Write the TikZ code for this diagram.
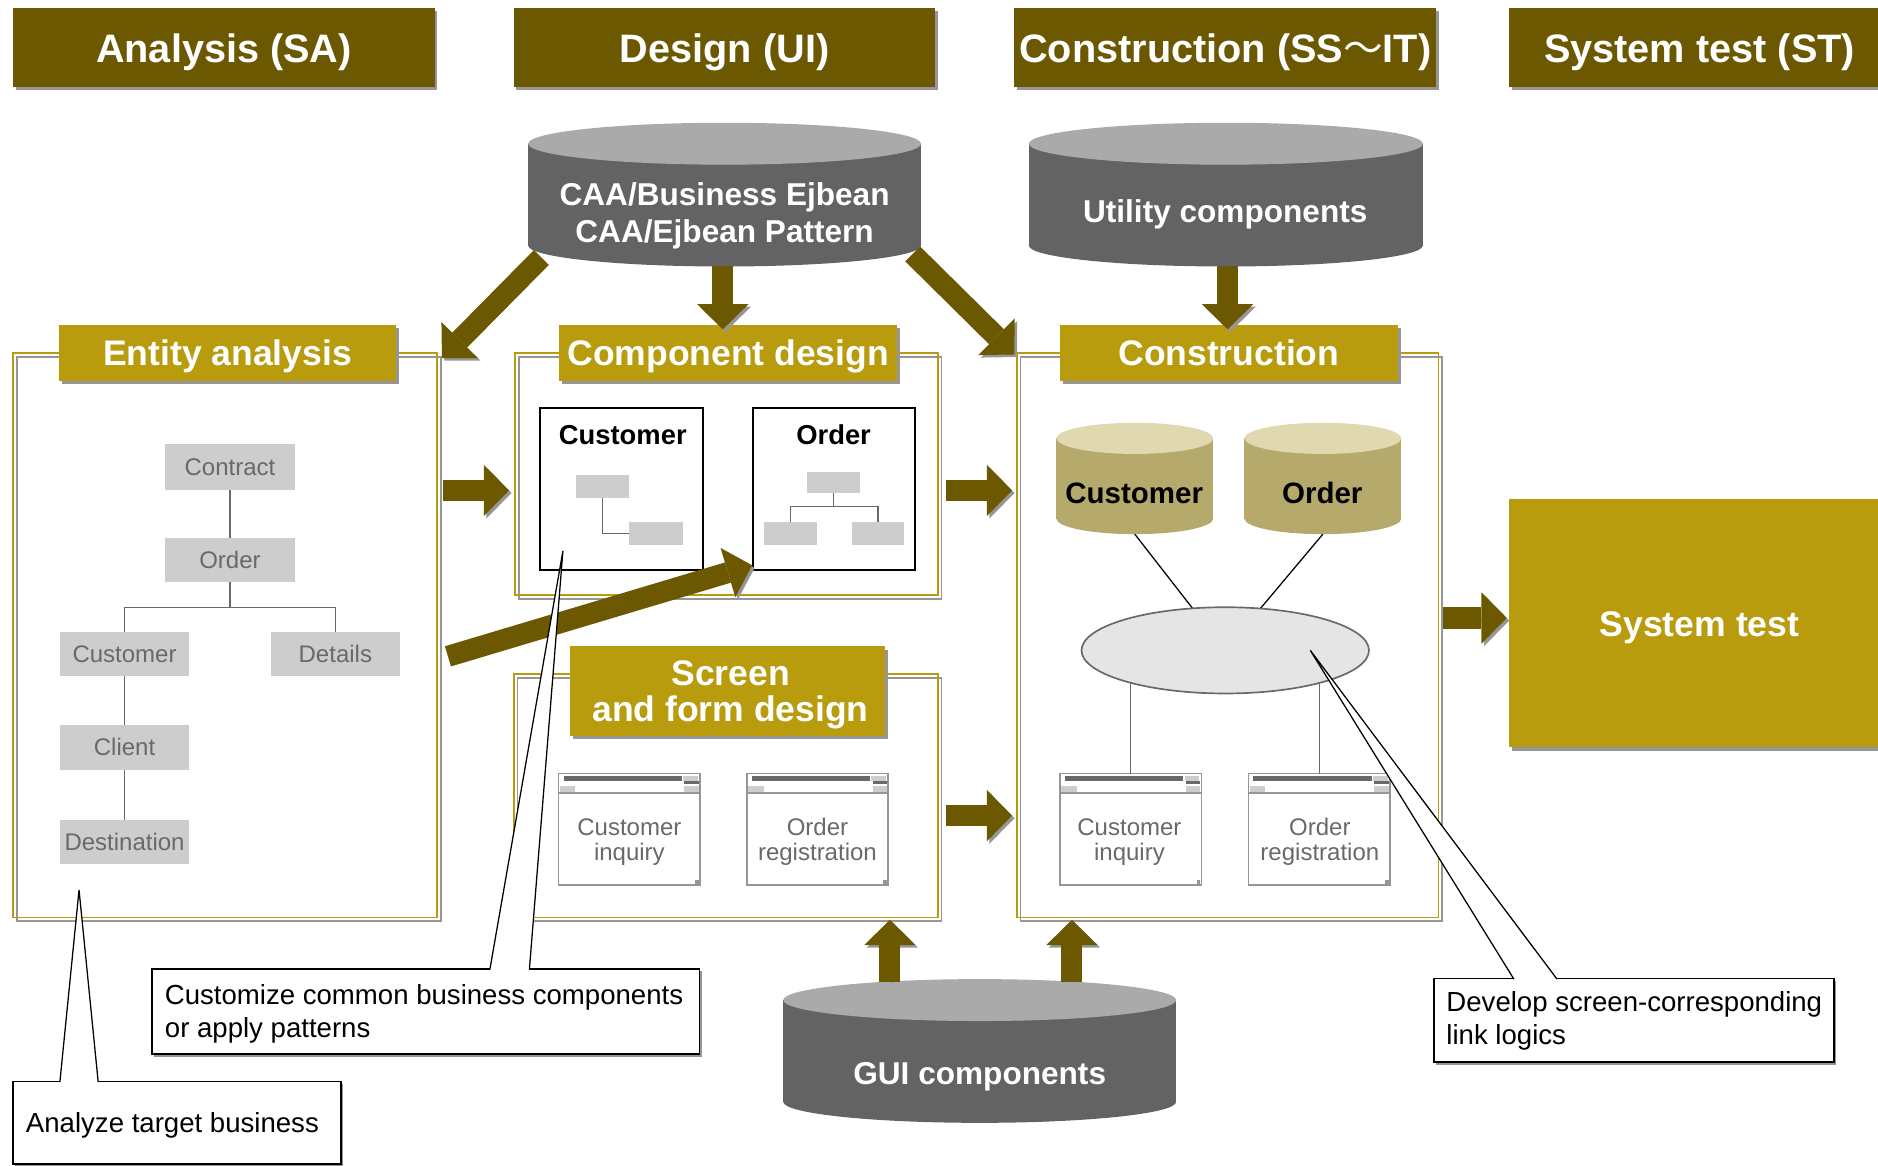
\documentclass[tikz,border=0pt]{standalone}
\usepackage{fontspec}
\setmainfont{Liberation Sans}
\newfontfamily\cjk{Noto Sans CJK JP}
\usetikzlibrary{arrows.meta,shapes.geometric,shadows}
\definecolor{darkgold}{RGB}{107,88,0}
\definecolor{gold}{RGB}{184,156,14}
\definecolor{shadowgray}{RGB}{150,150,150}
\definecolor{boxgray}{RGB}{205,205,205}
\definecolor{labelgray}{RGB}{105,105,105}
\definecolor{cylbody}{RGB}{99,99,99}
\definecolor{cyltop}{RGB}{170,170,170}
\definecolor{dbbody}{RGB}{181,169,108}
\definecolor{dbtop}{RGB}{224,216,174}
\tikzset{
    sized/.style 2 args={minimum width=#1*0.01cm, minimum height=#2*0.01cm, inner sep=0pt, outer sep=0pt},
    header/.style 2 args={sized={#1}{#2}, fill=darkgold, text=white, text height=7.6pt, text depth=0.7pt, general shadow={fill=shadowgray, shadow xshift=0.6pt, shadow yshift=-0.6pt},
        font=\fontsize{9.42pt}{11pt}\selectfont\bfseries},
    titlebox/.style 2 args={sized={#1}{#2}, fill=gold, text=white, text height=6.5pt, text depth=0.4pt, general shadow={fill=shadowgray, shadow xshift=0.7pt, shadow yshift=-0.8pt},
        font=\fontsize{8.43pt}{8.5pt}\selectfont\bfseries},
    titletext/.style={text=white, align=center, inner sep=0pt, font=\fontsize{8.43pt}{8.5pt}\selectfont\bfseries},
    panel/.style 2 args={sized={#1}{#2}, draw=gold, line width=0.4pt, general shadow={draw=shadowgray, fill=none, line width=0.35pt, shadow xshift=0.9pt, shadow yshift=-0.9pt}},
    graybox/.style 2 args={sized={#1}{#2}, fill=boxgray, text=labelgray, font=\fontsize{5.7pt}{6pt}\selectfont},
    plainbox/.style 2 args={sized={#1}{#2}, draw=black, fill=white, line width=0.45pt},
    smallbold/.style={font=\fontsize{6.5pt}{7pt}\selectfont\bfseries},
    dbname/.style={font=\fontsize{7pt}{8pt}\selectfont\bfseries},
    drumend/.style 2 args={ellipse, sized={#1}{#2}},
    grayname/.style={text=white, align=center, font=\fontsize{7.5pt}{8.8pt}\selectfont\bfseries},
    winbox/.style={sized={118}{93}, draw=shadowgray, fill=white, line width=0.35pt},
    wintext/.style={align=center, inner sep=0pt, text=labelgray, font=\fontsize{5.7pt}{6pt}\selectfont},
    thinline/.style={draw=labelgray, line width=0.3pt},
    blackline/.style={draw=black, line width=0.3pt},
    bigarrow/.style={draw=darkgold, line width=5pt, -{Triangle[length=6pt, width=12.2pt, line width=0pt]}, preaction={draw=shadowgray, transform canvas={shift={(0.6pt,-0.6pt)}}}},
    calloutbox/.style 2 args={plainbox={#1}{#2}, general shadow={fill=shadowgray, shadow xshift=0.5pt, shadow yshift=-0.6pt}},
    callouttext/.style={anchor=west, align=left, inner sep=0pt, font=\fontsize{6.55pt}{7.7pt}\selectfont},
    wedgefill/.style={fill=white},
    wedge/.style={draw=black, line width=0.3pt},
    winbar/.pic={
        \fill[labelgray] (4,2) rectangle (103,6);
        \fill[boxgray] (104,2) rectangle (116,6);
        \fill[labelgray] (105,6) rectangle (117,9);
        \fill[boxgray] (1,10) rectangle (14,15);
        \fill[boxgray] (105,10) rectangle (117,15);
        \draw[shadowgray, line width=0.3pt] (0,16) -- (118,16);
        \fill[shadowgray] (114,89) rectangle (117,92);
    }
}
\begin{document}
\begin{tikzpicture}[x=0.01cm, y=-0.01cm]
    \useasboundingbox (0,0) rectangle (1568,973);
    \node (entitypanel) [panel={354}{471}] at (188,530.5) {};
    \node (comppanel) [panel={353}{202}] at (606.5,396) {};
    \node (screenpanel) [panel={354}{203}] at (606,664.5) {};
    \node (conspanel) [panel={352}{471}] at (1025,530.5) {};
    \node (analysishead) [header={352}{66}] at (187,40) {Analysis (SA)};
    \node (designhead) [header={352}{66}] at (605,40) {Design (UI)};
    \node (conshead) [header={352}{66}] at (1023,40) {Construction (SS{\cjk\mdseries ～}IT)};
    \node (testhead) [header={308}{66}] at (1414,40) {\hspace{0.1cm}System test (ST)};
    \node (entitytitle) [titlebox={282}{47}] at (190,294.5) {Entity analysis};
    \node (comptitle) [titlebox={282}{47}] at (608,294.5) {Component design};
    \node (constitle) [titlebox={282}{47}] at (1026,294.5) {Construction};
    \node (screentitle) [titlebox={263}{75}] at (607.5,577) {};
    \node (screentext) [titletext] at (610,580) {Screen\\and form design};
    \node (systembox) [sized={308}{207}, fill=gold, text=white, text height=6.6pt, text depth=0.4pt, general shadow={fill=shadowgray, shadow xshift=0.7pt, shadow yshift=-0.9pt},
        font=\fontsize{8.45pt}{10pt}\selectfont\bfseries] at (1414,520.5) {\hspace{0.1cm}System test};
    \node (contract) [graybox={108}{38}] at (192,390) {Contract};
    \node (order) [graybox={108}{37}] at (192,467.5) {Order};
    \node (customer) [graybox={108}{37}] at (104,546) {Customer};
    \node (details) [graybox={108}{37}] at (280,546) {Details};
    \node (client) [graybox={108}{38}] at (104,624) {Client};
    \node (destination) [graybox={108}{37}] at (104,703) {Destination};
    \coordinate (orderjoin) at (192,507);
    \draw[thinline] (contract) -- (order);
    \draw[thinline] (order) -- (orderjoin);
    \draw[thinline] (customer) |- (orderjoin);
    \draw[thinline] (details) |- (orderjoin);
    \draw[thinline] (customer) -- (client);
    \draw[thinline] (client) -- (destination);
    \node (custclass) [plainbox={136}{135}] at (519,408.5) {};
    \node (orderclass) [plainbox={135}{135}] at (696.5,408.5) {};
    \node (custclassname) [smallbold] at (520,363) {Customer};
    \node (orderclassname) [smallbold] at (696,363) {Order};
    \node (custa) [sized={44}{19}, fill=boxgray] at (503,406) {};
    \node (custb) [sized={45}{19}, fill=boxgray] at (547.5,445.5) {};
    \draw[thinline] (custa) |- (custb);
    \node (ordera) [sized={44}{18}, fill=boxgray] at (696,403) {};
    \node (orderb) [sized={44}{19}, fill=boxgray] at (660,445.5) {};
    \node (orderc) [sized={44}{19}, fill=boxgray] at (733,445.5) {};
    \coordinate (classjoin) at (696,423);
    \draw[thinline] (ordera) -- (classjoin);
    \draw[thinline] (orderb) |- (classjoin);
    \draw[thinline] (orderc) |- (classjoin);
    \node (custwina) [winbox] at (525.5,692.5) {};
    \node (orderwina) [winbox] at (682.5,692.5) {};
    \node (custwinb) [winbox] at (944,692.5) {};
    \node (orderwinb) [winbox] at (1101.5,692.5) {};
    \node (custwinatext) [wintext] at (525.5,703) {Customer\\inquiry};
    \node (orderwinatext) [wintext] at (682.5,703) {Order\\registration};
    \node (custwinbtext) [wintext] at (943,703) {Customer\\inquiry};
    \node (orderwinbtext) [wintext] at (1102,703) {Order\\registration};
    \pic at (custwina.north west) {winbar};
    \pic at (orderwina.north west) {winbar};
    \pic at (custwinb.north west) {winbar};
    \pic at (orderwinb.north west) {winbar};
    \node (custbase) [drumend={131}{26}, fill=dbbody] at (947.5,433) {};
    \node (custbody) [sized={131}{67}, fill=dbbody] at (947.5,399.5) {};
    \node (custtop) [drumend={131}{26}, fill=dbtop] at (947.5,366) {};
    \node (orderbase) [drumend={131}{26}, fill=dbbody] at (1104.5,433) {};
    \node (orderbody) [sized={131}{67}, fill=dbbody] at (1104.5,399.5) {};
    \node (ordertop) [drumend={131}{26}, fill=dbtop] at (1104.5,366) {};
    \node (custdbname) [dbname] at (947,412) {Customer};
    \node (orderdbname) [dbname] at (1104,412) {Order};
    \node (link) [drumend={240}{72}] at (1023,543) {};
    \draw[blackline] (custbase.south) -- (link);
    \draw[blackline] (orderbase.south) -- (link);
    \draw[thinline] (custwinb.north) -- (custwinb.north |- link.center);
    \draw[thinline] (orderwinb.north) -- (orderwinb.north |- link.center);
    \node (linkshape) [drumend={240}{72}, draw=labelgray, fill=black!10, line width=0.4pt] at (link) {};
    \node (caabase) [drumend={328}{35}, fill=cylbody] at (605,205) {};
    \node (caabody) [sized={328}{85}, fill=cylbody] at (605,162.5) {};
    \node (caatop) [drumend={328}{35}, fill=cyltop] at (605,120) {};
    \node (utilbase) [drumend={329}{35}, fill=cylbody] at (1023.5,205) {};
    \node (utilbody) [sized={329}{85}, fill=cylbody] at (1023.5,162.5) {};
    \node (utiltop) [drumend={329}{35}, fill=cyltop] at (1023.5,120) {};
    \node (guibase) [drumend={328}{35}, fill=cylbody] at (818,920) {};
    \node (guibody) [sized={328}{85}, fill=cylbody] at (818,877.5) {};
    \node (guitop) [drumend={328}{35}, fill=cyltop] at (818,835) {};
    \node (caaname) [grayname] at (605,180) {CAA/Business Ejbean\\CAA/Ejbean Pattern};
    \node (utilname) [grayname] at (1023,179) {Utility components};
    \node (guiname) [grayname] at (818,899) {GUI components};
    \coordinate (caaleft) at (452,215);
    \coordinate (caaright) at (762,212);
    \coordinate (caadown) at (603.5,222);
    \coordinate (utildown) at (1025,222);
    \coordinate (guiup) at (743,820);
    \coordinate (guiupb) at (895,820);
    \coordinate (entitytip) at (369,299);
    \coordinate (comptip) at (603.5,275);
    \coordinate (constip) at (847,296);
    \coordinate (utiltip) at (1025,275);
    \coordinate (screentip) at (743,768);
    \coordinate (guitipb) at (895,768);
    \coordinate (arrowa) at (370,409.5);
    \coordinate (arrowb) at (425,409.5);
    \coordinate (arrowc) at (790,409.5);
    \coordinate (arrowd) at (845,409.5);
    \coordinate (arrowe) at (790,681);
    \coordinate (arrowf) at (845,681);
    \coordinate (arrowg) at (1205,516);
    \coordinate (arrowh) at (1258,516);
    \coordinate (crossa) at (374,548);
    \coordinate (crossb) at (628,472);
    \draw[bigarrow] (caaleft) -- (entitytip);
    \draw[bigarrow] (caadown) -- (comptip);
    \draw[bigarrow] (caaright) -- (constip);
    \draw[bigarrow] (utildown) -- (utiltip);
    \draw[bigarrow] (guiup) -- (screentip);
    \draw[bigarrow] (guiupb) -- (guitipb);
    \draw[bigarrow] (arrowa) -- (arrowb);
    \draw[bigarrow] (arrowc) -- (arrowd);
    \draw[bigarrow] (arrowe) -- (arrowf);
    \draw[bigarrow] (arrowg) -- (arrowh);
    \draw[bigarrow] (crossa) -- (crossb);
    \node (customize) [calloutbox={457}{71}] at (355.5,844.5) {};
    \node (analyze) [calloutbox={274}{69}] at (148,937.5) {};
    \node (develop) [calloutbox={334}{70}] at (1364,852) {};
    \node (customizetext) [callouttext] at (137,846.5) {Customize common business components\\or apply patterns};
    \node (analyzetext) [callouttext] at (21,940) {Analyze target business};
    \node (developtext) [callouttext] at (1207,852.5) {Develop screen-corresponding\\link logics};
    \coordinate (custwl) at (409,809.5);
    \coordinate (custwr) at (442,809.5);
    \coordinate (custwt) at (470,460);
    \coordinate (anawl) at (50,903.5);
    \coordinate (anawr) at (82,903.5);
    \coordinate (anawt) at (66,743);
    \coordinate (devwl) at (1264,817.5);
    \coordinate (devwr) at (1300,817.5);
    \coordinate (devwt) at (1094,543);
    \fill[wedgefill] (custwl) -- (custwt) -- (custwr) -- cycle;
    \fill[wedgefill] (anawl) -- (anawt) -- (anawr) -- cycle;
    \fill[wedgefill] (devwl) -- (devwt) -- (devwr) -- cycle;
    \draw[white, line width=0.6pt] (custwl) -- (custwr);
    \draw[white, line width=0.6pt] (anawl) -- (anawr);
    \draw[white, line width=0.6pt] (devwl) -- (devwr);
    \draw[wedge] (custwl) -- (custwt) -- (custwr);
    \draw[wedge] (anawl) -- (anawt) -- (anawr);
    \draw[wedge] (devwl) -- (devwt) -- (devwr);
\end{tikzpicture}
\end{document}
